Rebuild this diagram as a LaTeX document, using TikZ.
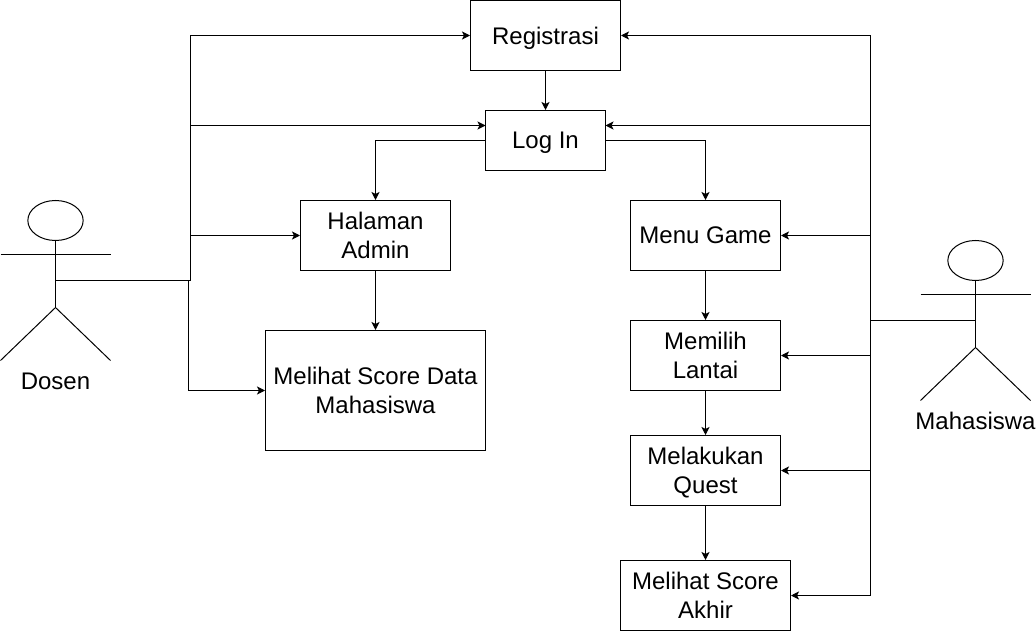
\documentclass[tikz,border=0pt]{standalone}
\usepackage{fontspec}
\setmainfont{Liberation Sans}
\usetikzlibrary{arrows.meta, shapes.geometric}
\tikzset{
	box/.style={draw, minimum width=#1, inner sep=0pt, align=center, text depth=0pt, font=\fontsize{18}{22}\selectfont},
	head/.style={draw, ellipse, minimum width=41.5pt, minimum height=30pt, inner sep=0pt},
	caption/.style={inner sep=0pt, font=\fontsize{18}{22}\selectfont},
	link/.style={-{Stealth[length=6pt, width=6pt, inset=1.5pt]}}
}
\begin{document}
\begin{tikzpicture}[x=0.75pt, y=-0.75pt, line width=0.75pt]
	\useasboundingbox (-0.5,-0.5) rectangle (1035.5,630.5);

	\node [box=112.5pt, minimum height=52.5pt] (registrasi) at (545,35) {Registrasi};
	\node [box=90pt, minimum height=45pt] (login) at (545,140) {Log In};
	\node [box=112.5pt, minimum height=52.5pt] (admin) at (375,235) {Halaman\\Admin};
	\node [box=165pt, minimum height=90pt] (scoredata) at (375,390) {Melihat Score Data\\Mahasiswa};
	\node [box=112.5pt, minimum height=52.5pt] (menu) at (705,235) {Menu Game};
	\node [box=112.5pt, minimum height=52.5pt] (lantai) at (705,355) {Memilih\\Lantai};
	\node [box=112.5pt, minimum height=52.5pt] (quest) at (705,470) {Melakukan\\Quest};
	\node [box=127.5pt, minimum height=52.5pt] (akhir) at (705,595) {Melihat Score\\Akhir};

	% dosen
	\node [head] (dosen) at (55,220) {};
	\coordinate (dosenhip) at (55,307);
	\coordinate (dosenhub) at (190,280);
	\draw (0,254) -- (110,254);
	\draw (dosen.south) -- (dosenhip);
	\draw (0,360) -- (dosenhip) -- (110,360);
	\node [caption] (dosenlabel) at (55,380.5) {Dosen};

	% mahasiswa
	\node [head] (mhs) at (975,260) {};
	\coordinate (mhship) at (975,347);
	\coordinate (mhshub) at (870,320);
	\draw (920,294) -- (1030,294);
	\draw (mhs.south) -- (mhship);
	\draw (920,400) -- (mhship) -- (1030,400);
	\node [caption] (mhslabel) at (975,420.5) {Mahasiswa};

	% dosen ke halaman
	\coordinate (dosenarm) at (55,280);
	\coordinate (logintopl) at (485,125);
	\coordinate (logintopr) at (605,125);
	\draw (dosenarm) -- (dosenhub);
	\draw [link] (dosenhub) |- (registrasi.west);
	\draw [link] (dosenhub) |- (logintopl);
	\draw [link] (dosenhub) |- (admin.west);
	\draw [link] (188,280) |- (scoredata.west);

	% mahasiswa ke halaman
	\coordinate (mhsarm) at (975,320);
	\draw (mhsarm) -- (mhshub);
	\draw [link] (mhshub) |- (registrasi.east);
	\draw [link] (mhshub) |- (logintopr);
	\draw [link] (mhshub) |- (menu.east);
	\draw [link] (mhshub) |- (lantai.east);
	\draw [link] (mhshub) |- (quest.east);
	\draw [link] (mhshub) |- (akhir.east);

	% alur
	\draw [link] (registrasi) -- (login);
	\draw [link] (login.west) -| (admin.north);
	\draw [link] (login.east) -| (menu.north);
	\draw [link] (admin) -- (scoredata);
	\draw [link] (menu) -- (lantai);
	\draw [link] (lantai) -- (quest);
	\draw [link] (quest) -- (akhir);
\end{tikzpicture}
\end{document}
